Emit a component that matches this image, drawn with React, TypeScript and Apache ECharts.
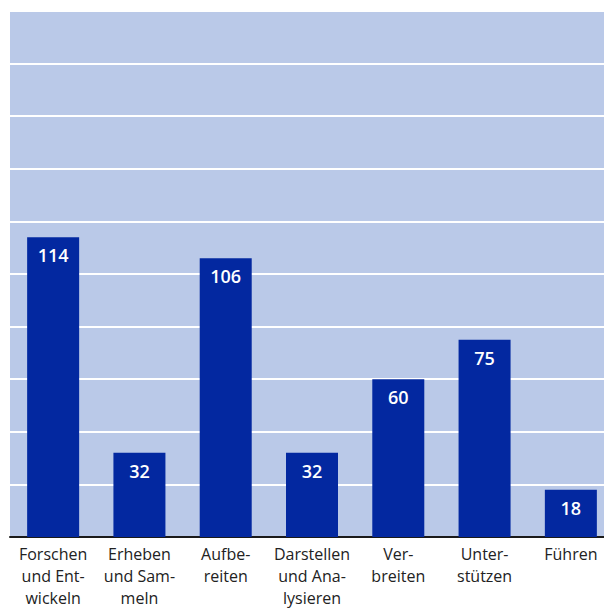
import React, { useEffect, useRef } from "react";
import * as echarts from "echarts";

const categories = [
  "Forschen\nund Ent-\nwickeln",
  "Erheben\nund Sam-\nmeln",
  "Aufbe-\nreiten",
  "Darstellen\nund Ana-\nlysieren",
  "Ver-\nbreiten",
  "Unter-\nstützen",
  "Führen",
];
const values = [114, 32, 106, 32, 60, 75, 18];
const yMin = 0;
const yMax = 200;
const yInterval = 20;

export default function App() {
  const ref = useRef<HTMLDivElement>(null);
  useEffect(() => {
    if (!ref.current) return;
    const chart = echarts.init(ref.current, null, { renderer: "svg" });
    chart.setOption({
      animation: false,
      grid: {
        left: 10,
        right: 6,
        top: 11,
        bottom: 64,
        show: true,
        backgroundColor: "#bac9e8",
        borderWidth: 0,
      },
      xAxis: {
        type: "category",
        data: categories,
        axisLine: { show: true, lineStyle: { color: "#1a1a1a", width: 2 } },
        axisTick: { show: false },
        axisLabel: {
          interval: 0,
          color: "#222",
          fontSize: 16,
          lineHeight: 22,
          margin: 6,
          fontFamily: "Open Sans",
        },
      },
      yAxis: {
        type: "value",
        min: yMin,
        max: yMax,
        interval: yInterval,
        axisLine: { show: false },
        axisTick: { show: false },
        axisLabel: { show: false },
        splitLine: { show: true, lineStyle: { color: "#ffffff", width: 2 } },
      },
      series: [
        {
          type: "bar",
          data: values,
          barWidth: 52,
          itemStyle: { color: "#0328a0" },
          label: {
            show: true,
            position: "insideTop",
            distance: 9,
            color: "#ffffff",
            fontSize: 18,
            fontWeight: 600,
            fontFamily: "Open Sans",
          },
        },
      ],
    });
    return () => chart.dispose();
  }, []);
  return (
    <div
      style={{
        position: "absolute",
        left: 0,
        top: 0,
        width: 604,
        height: 609,
        overflow: "hidden",
      }}
    >
      <div ref={ref} style={{ width: 620, height: 609 }} />
    </div>
  );
}
